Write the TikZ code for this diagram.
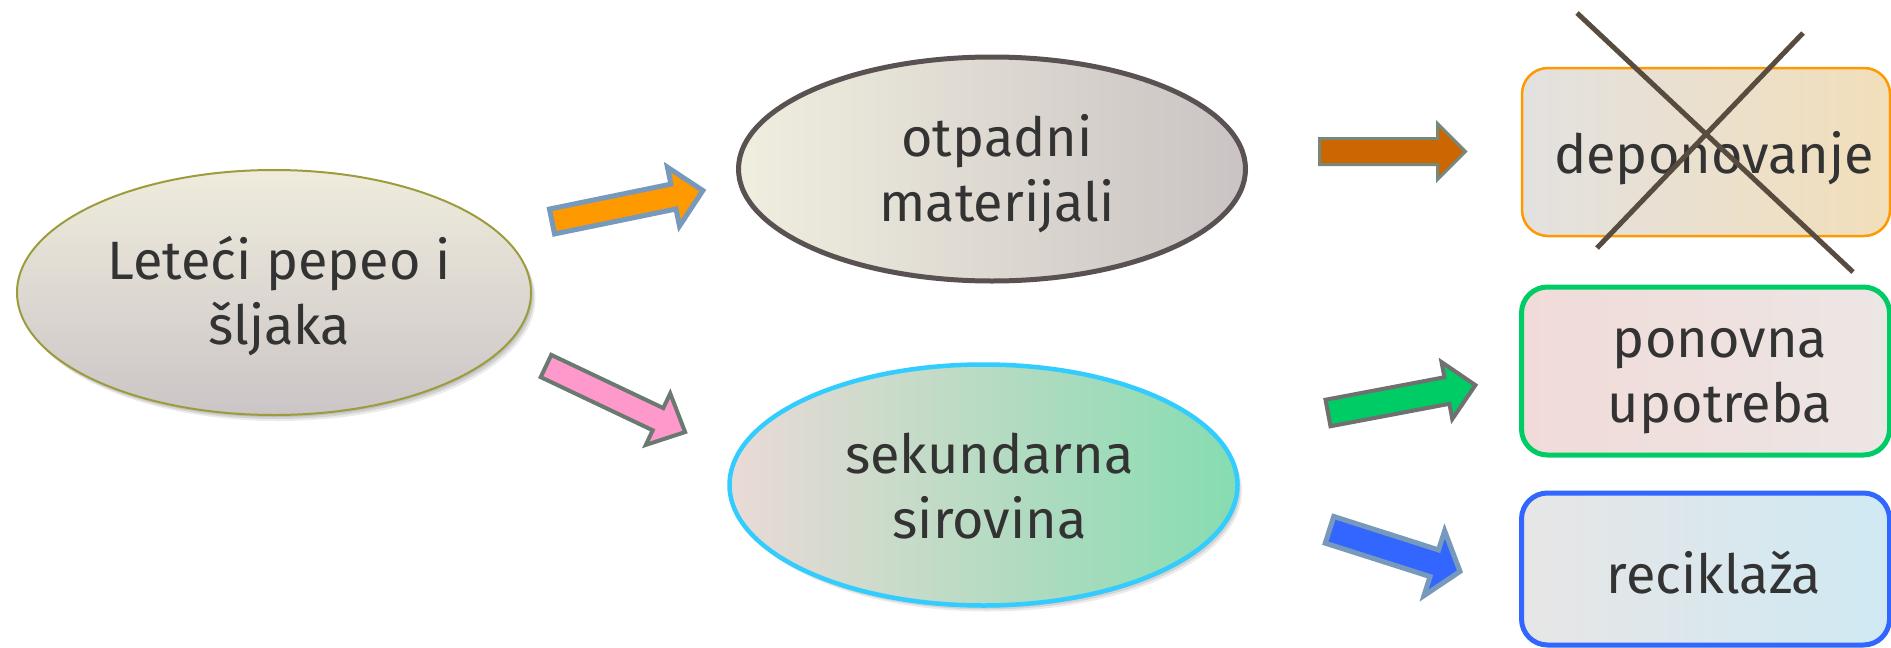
\documentclass[tikz,border=0pt]{standalone}
\usepackage{fontspec}
\setmainfont{Fira Sans}
\usetikzlibrary{shapes.geometric,shadows}

\definecolor{textgrey}{HTML}{333333}
\definecolor{olive}{HTML}{9C9C3C}
\definecolor{darkrim}{HTML}{5A5252}
\definecolor{skyrim}{HTML}{33CCFF}
\definecolor{crossbrown}{HTML}{574C3F}
\definecolor{steel}{HTML}{7799BB}
\definecolor{sage}{HTML}{6A7A70}
\definecolor{midgrey}{HTML}{707070}
\definecolor{greenrim}{HTML}{788878}
% fills
\definecolor{srcTop}{HTML}{EFECDD}
\definecolor{srcBot}{HTML}{CBC5C6}
\definecolor{wasteL}{HTML}{F0EEDF}
\definecolor{wasteR}{HTML}{CAC3C3}
\definecolor{rawL}{HTML}{EADAD6}
\definecolor{rawR}{HTML}{86DCB1}
\definecolor{depRim}{HTML}{FF9900}
\definecolor{depL}{HTML}{E3E1E0}
\definecolor{depR}{HTML}{F2DFBA}
\definecolor{reuseRim}{HTML}{00CC66}
\definecolor{reuseL}{HTML}{F1DBD8}
\definecolor{reuseR}{HTML}{ECE6E5}
\definecolor{recRim}{HTML}{3366FF}
\definecolor{recL}{HTML}{E7E6E6}
\definecolor{recR}{HTML}{CFE9F3}
\definecolor{arrOrange}{HTML}{FF9900}
\definecolor{arrPink}{HTML}{FF99CC}
\definecolor{arrBrown}{HTML}{CC6600}
\definecolor{arrGreen}{HTML}{00CC66}
\definecolor{arrBlue}{HTML}{3366FF}

\begin{document}
\begin{tikzpicture}[x=1pt,y=-1pt,
  txt/.style={text=textgrey, font=\fontsize{54}{65}\selectfont, align=center, inner sep=0pt},
  bubble/.style={ellipse, inner sep=0pt},
  % layered offsets give a soft, blurred-looking shadow
  softshadow/.style={
    drop shadow={shadow xshift=1.5pt, shadow yshift=-2pt, fill=black, opacity=0.10},
    drop shadow={shadow xshift=3pt, shadow yshift=-4pt, fill=black, opacity=0.10},
    drop shadow={shadow xshift=4.5pt, shadow yshift=-6pt, fill=black, opacity=0.08}},
  card/.style={rectangle, rounded corners=26pt, minimum width=368pt, inner sep=0pt},
  cross/.style={draw=crossbrown, line width=5pt},
  pics/blockarrow/.style args={#1/#2/#3/#4}{code={
    \path[pic actions] (0,#2) -- ({#1-#4},#2) -- ({#1-#4},#3) -- (#1,0)
      -- ({#1-#4},-#3) -- ({#1-#4},-#2) -- (0,-#2) -- cycle;}},
]
\useasboundingbox (0,0) rectangle (1891,648);

% --- ellipses -------------------------------------------------------------
\node[bubble, softshadow, minimum width=514pt, minimum height=245pt,
      draw=olive, line width=2pt, top color=srcTop, bottom color=srcBot]
      (src) at (274,292.5) {};
\node[txt] (src-text) at (279,296) {Leteći pepeo i\\šljaka};

\node[bubble, minimum width=507pt, minimum height=224pt,
      draw=darkrim, line width=5pt, left color=wasteL, right color=wasteR]
      (waste) at (992,169) {};
\node[txt] (waste-text) at (997,174) {otpadni\\materijali};

\node[bubble, softshadow, minimum width=508pt, minimum height=241pt,
      draw=skyrim, line width=4.5pt, left color=rawL, right color=rawR]
      (raw) at (983.5,485) {};
\node[txt] (raw-text) at (989.5,486.5) {sekundarna\\sirovina};

% --- outcome cards ----------------------------------------------------------
\node[card, minimum height=168pt, draw=depRim, line width=2.5pt,
      left color=depL, right color=depR] (dep) at (1706,152) {};
\node[txt] (dep-text) at (1714,158.5) {deponovanje};

\node[card, minimum height=168pt, draw=reuseRim, line width=5pt,
      left color=reuseL, right color=reuseR] (reuse) at (1705.5,371) {};
\node[txt] (reuse-text) at (1720,381) {ponovna\\upotreba};

\node[card, minimum height=152pt, draw=recRim, line width=5pt,
      left color=recL, right color=recR] (recycle) at (1705.5,569) {};
\node[txt] (recycle-text) at (1714,573) {reciklaža};

% --- crossing out of the disposal card --------------------------------------
\coordinate (xa1) at (1577,13);
\coordinate (xa2) at (1853,272);
\coordinate (xb1) at (1803,33);
\coordinate (xb2) at (1597,248);
\draw[cross] (xa1) -- (xa2);
\draw[cross] (xb1) -- (xb2);

% --- block arrows -------------------------------------------------------------
\pic[fill=arrOrange, draw=steel, line width=5pt, rotate=11.6]
    (toWaste) at (552,221.5) {blockarrow=154/12.7/30/30};
\pic[fill=arrPink, draw=sage, line width=4pt, rotate=-25.4]
    (toRaw) at (546,366) {blockarrow=154/12.3/28.5/30};
\pic[fill=arrBrown, draw=greenrim, line width=3pt]
    (toDep) at (1319.5,151.5) {blockarrow=146/13/28/28};
\pic[fill=arrGreen, draw=midgrey, line width=4pt, rotate=10.7]
    (toReuse) at (1328,413) {blockarrow=150/13.5/29/29};
\pic[fill=arrBlue, draw=steel, line width=5pt, rotate=-17.7]
    (toRecycle) at (1329.5,529.8) {blockarrow=137/14/34/27};
\end{tikzpicture}
\end{document}
